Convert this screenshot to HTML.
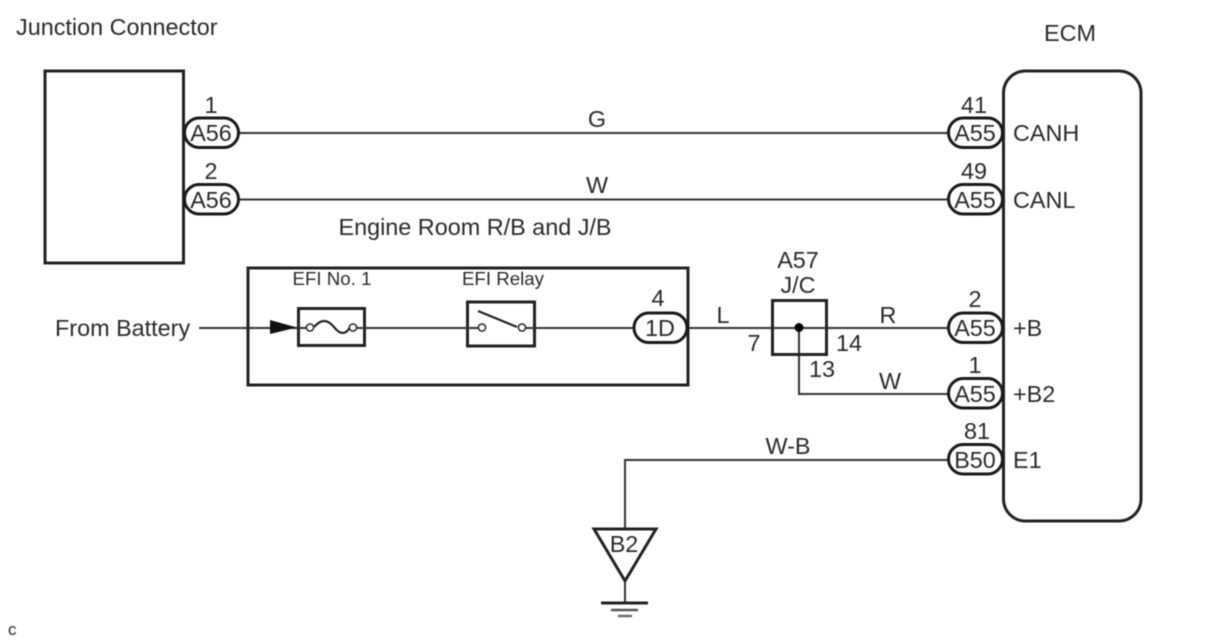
<!DOCTYPE html>
<html>
<head>
<meta charset="utf-8">
<style>
html,body{margin:0;padding:0;background:#fff;width:1208px;height:644px;overflow:hidden}
svg{display:block;filter:blur(0.45px)}
text{font-family:"Liberation Sans",sans-serif;font-size:23.4px;fill:#2a2a2a;text-anchor:middle}
.s{font-size:18.7px}
.l{text-anchor:start}
.w{stroke:#333;stroke-width:2;fill:none}
.b{stroke:#222;stroke-width:3;fill:#fff}
.p{stroke:#1a1a1a;stroke-width:3;fill:#fff}
</style>
</head>
<body>
<svg width="1208" height="644" viewBox="0 0 1208 644" xmlns="http://www.w3.org/2000/svg">
<!-- wires -->
<path class="w" d="M239 133H948M239 199.500H948M199 328H948M799 328V394H948M948 460H625V529M625 581V603"/>
<!-- main boxes -->
<rect class="b" x="45" y="71" width="138.5" height="192"/>
<rect class="b" x="1003.500" y="71" width="137.500" height="450" rx="22" ry="22"/>
<rect x="248" y="268" width="440" height="117" fill="none" stroke="#222" stroke-width="3"/>
<!-- left pills -->
<rect class="p" x="184.500" y="118" width="54" height="29.500" rx="14.700"/>
<rect class="p" x="184.500" y="184.500" width="54" height="29.500" rx="14.700"/>
<text x="211" y="141">A56</text>
<text x="211" y="208">A56</text>
<text x="211" y="113">1</text>
<text x="211" y="179">2</text>
<!-- right pills -->
<rect class="p" x="948.500" y="118" width="54" height="29.500" rx="14.700"/>
<rect class="p" x="948.500" y="184.500" width="54" height="29.500" rx="14.700"/>
<rect class="p" x="948.500" y="313" width="54" height="29.500" rx="14.700"/>
<rect class="p" x="948.500" y="378.500" width="54" height="29.500" rx="14.700"/>
<rect class="p" x="948.500" y="444.500" width="54" height="29.500" rx="14.700"/>
<text x="975" y="141">A55</text>
<text x="975" y="208">A55</text>
<text x="975" y="336">A55</text>
<text x="975" y="402">A55</text>
<text x="975" y="468">B50</text>
<text x="974" y="113">41</text>
<text x="974" y="179">49</text>
<text x="975" y="307">2</text>
<text x="975" y="373">1</text>
<text x="977" y="439">81</text>
<!-- ECM pins -->
<text class="l" x="1013" y="141">CANH</text>
<text class="l" x="1013" y="208">CANL</text>
<text class="l" x="1013" y="336">+B</text>
<text class="l" x="1013" y="402">+B2</text>
<text class="l" x="1013" y="468">E1</text>
<!-- titles -->
<text class="l" x="16" y="35">Junction Connector</text>
<text x="1070" y="41">ECM</text>
<text x="475" y="235">Engine Room R/B and J/B</text>
<text class="l" x="55" y="336">From Battery</text>
<text class="s" x="332" y="285">EFI No. 1</text>
<text class="s" x="503" y="285">EFI Relay</text>
<!-- wire colors -->
<text x="597" y="127">G</text>
<text x="597" y="193">W</text>
<text x="723" y="323">L</text>
<text x="888" y="323">R</text>
<text x="890" y="389">W</text>
<text x="788" y="454">W-B</text>
<!-- arrow -->
<path d="M270 320L297 327.500L270 334Z" fill="#111"/>
<!-- fuse -->
<rect x="298.500" y="308.500" width="66" height="37" fill="#fff" stroke="#222" stroke-width="3"/>
<path class="w" d="M298 328H310M354 328H364"/>
<path d="M314 327C322 318 328 320 334 327C340 335 346 335 350 327" fill="none" stroke="#222" stroke-width="2.200"/>
<circle cx="310" cy="327.500" r="3.600" fill="#fff" stroke="#333" stroke-width="1.600"/>
<circle cx="353" cy="327.500" r="3.600" fill="#fff" stroke="#333" stroke-width="1.600"/>
<!-- relay -->
<rect x="467.500" y="302" width="67" height="44" fill="#fff" stroke="#222" stroke-width="3"/>
<path class="w" d="M467 328H481M522 328H535"/>
<path d="M478 311L517 327" fill="none" stroke="#222" stroke-width="2.200"/>
<circle cx="482" cy="327.500" r="3.600" fill="#fff" stroke="#333" stroke-width="1.600"/>
<circle cx="522" cy="327.500" r="3.600" fill="#fff" stroke="#333" stroke-width="1.600"/>
<!-- 1D pill -->
<rect class="p" x="634" y="313" width="53" height="29.500" rx="14.700"/>
<text x="660" y="336">1D</text>
<text x="658" y="306">4</text>
<!-- J/C -->
<rect x="772.500" y="300.500" width="54" height="54" fill="none" stroke="#222" stroke-width="3"/>
<circle cx="799" cy="327.500" r="4.500" fill="#000"/>
<text x="798" y="268">A57</text>
<text x="798" y="293">J/C</text>
<text x="754" y="351">7</text>
<text x="849" y="351">14</text>
<text x="822" y="377">13</text>
<!-- ground -->
<path d="M594 529H656L625 581Z" fill="#fff" stroke="#222" stroke-width="3"/>
<text x="624" y="552">B2</text>
<path d="M601 603H648" stroke="#222" stroke-width="3"/>
<path d="M611 610H638" stroke="#555" stroke-width="2.400"/>
<path d="M618 616H632" stroke="#666" stroke-width="2.400"/>
<!-- corner -->
<text class="l" style="font-size:17px" x="8" y="635">c</text>
</svg>
</body>
</html>
